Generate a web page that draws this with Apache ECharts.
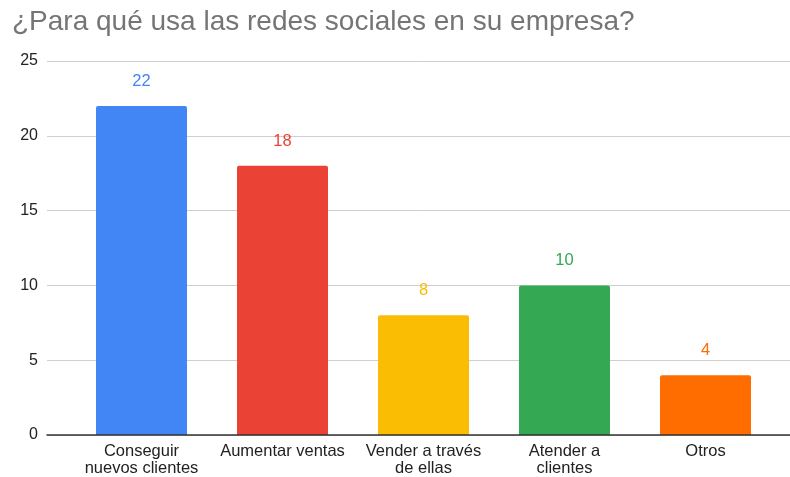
<!DOCTYPE html>
<html>
<head>
<meta charset="utf-8">
<script src="https://cdn.jsdelivr.net/npm/echarts@6/dist/echarts.min.js"></script>
<style>
  html, body { margin: 0; padding: 0; background: #fff; }
  #chart { width: 790px; height: 477px; }
</style>
</head>
<body>
<div id="chart"></div>
<script>
const titleText = '¿Para qué usa las redes sociales en su empresa?';
const categories = ['Conseguir\nnuevos clientes', 'Aumentar ventas', 'Vender a través\nde ellas', 'Atender a\nclientes', 'Otros'];
const values = [22, 18, 8, 10, 4];
const barColors = ['#4285F4', '#EA4335', '#FBBC04', '#34A853', '#FF6D01'];
const yTicks = { min: 0, max: 25, interval: 5 };

const FONT = '"Liberation Sans", Arial, sans-serif';

const chart = echarts.init(document.getElementById('chart'), null, { renderer: 'canvas' });

chart.setOption({
  animation: false,
  backgroundColor: '#ffffff',
  title: {
    text: titleText,
    left: 7,
    top: 3,
    textStyle: { fontFamily: FONT, fontSize: 28, fontWeight: 'normal', color: '#757575' }
  },
  grid: [
    // wide grid: gridlines, y labels and baseline
    { left: 47, right: 0, top: 61, bottom: 42, containLabel: false, outerBoundsMode: 'none' },
    // bar grid
    { left: 71, width: 705, top: 61, bottom: 42, containLabel: false, outerBoundsMode: 'none' }
  ],
  xAxis: [
    {
      gridIndex: 0, type: 'category', data: [''],
      axisLine: { show: true, lineStyle: { color: '#333333', width: 1.5 } },
      axisTick: { show: false }, axisLabel: { show: false }, splitLine: { show: false },
      z: 5
    },
    {
      gridIndex: 1, type: 'category', data: categories,
      axisLine: { show: false }, axisTick: { show: false },
      axisLabel: {
        margin: 8, fontFamily: FONT, fontSize: 16.5, color: '#222222', lineHeight: 17,
        interval: 0
      }
    }
  ],
  yAxis: [
    {
      gridIndex: 0, type: 'value', min: yTicks.min, max: yTicks.max, interval: yTicks.interval,
      axisLine: { show: false }, axisTick: { show: false },
      axisLabel: { margin: 9, fontFamily: FONT, fontSize: 16, color: '#222222' },
      splitLine: { show: true, lineStyle: { color: '#cfcfcf', width: 1 } }
    },
    {
      gridIndex: 1, type: 'value', min: yTicks.min, max: yTicks.max, interval: yTicks.interval,
      show: false, splitLine: { show: false }
    }
  ],
  series: [{
    type: 'bar',
    xAxisIndex: 1,
    yAxisIndex: 1,
    barWidth: 91,
    data: values.map((v, i) => ({
      value: v,
      itemStyle: { color: barColors[i], borderRadius: [2, 2, 0, 0] },
      label: { color: barColors[i] }
    })),
    label: {
      show: true,
      position: 'top',
      distance: 16,
      fontFamily: FONT,
      fontSize: 16.5
    }
  }]
});
</script>
</body>
</html>
